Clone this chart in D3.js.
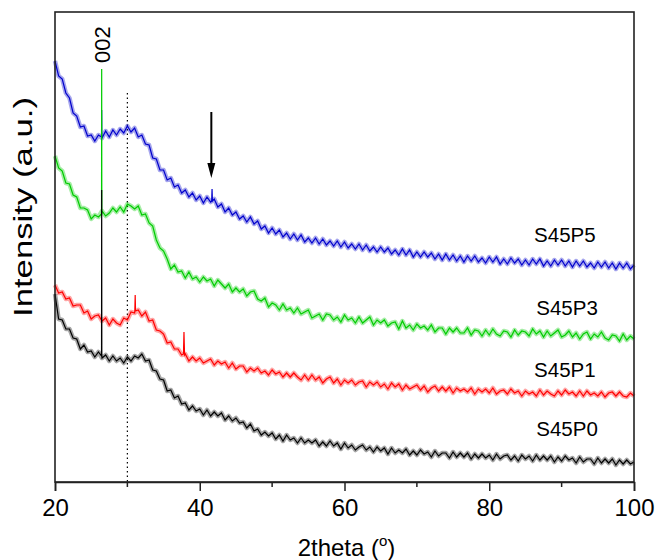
<!DOCTYPE html>
<html>
<head>
<meta charset="utf-8">
<script src="https://cdn.jsdelivr.net/npm/d3@7/dist/d3.min.js"></script>
<style>
  html, body { margin: 0; padding: 0; background: #fff; }
  svg { display: block; }
  text { font-family: "Liberation Sans", Arial, sans-serif; fill: #000; }
</style>
</head>
<body>
<div id="chart"></div>
<script>
// ---------------- DATA ----------------
const seriesNames = ["S45P5", "S45P3", "S45P1", "S45P0"];
const seriesColors = ["#0000CC", "#00CC00", "#FF0000", "#000000"];
const xTicks = [20, 40, 60, 80, 100];
const xMinorTicks = [30, 50, 70, 90];
const angleStart = 20, angleStep = 0.5; // 2theta sampling of the value arrays

// intensities (a.u.) sampled every 0.5 deg from 20 to 100
const S45P5 = [421,406,403,389,384,369,366,355,356,346,347,341,347,344,351,345,352,347,353,349,
356,350,354,345,347,338,337,324,323,312,312,302,304,295,297,289,292,285,289,282,
286,279,285,280,283,275,278,270,274,267,270,263,266,260,265,258,261,253,256,249,
254,248,252,245,249,243,248,242,247,240,244,239,244,238,243,237,241,236,241,235,
240,234,238,233,238,232,237,231,235,230,235,230,234,228,232,227,233,227,232,225,
230,225,230,225,229,223,228,222,228,222,227,221,226,220,226,221,226,220,224,219,
225,220,225,218,223,218,224,219,223,217,222,217,223,218,223,216,221,216,222,217,
222,216,221,215,221,216,221,215,219,214,220,215,220,214,219,213,219,214,219,213,217];

const S45P3 = [326,314,311,299,298,287,285,274,274,272,263,267,265,271,266,269,274,270,275,270,
278,276,273,276,267,268,259,256,242,234,231,223,213,217,210,211,204,210,203,205,
200,205,201,203,196,202,198,194,198,190,194,190,193,186,190,191,183,181,184,175,
179,177,172,178,172,174,169,174,168,170,172,164,166,168,162,168,167,162,165,160,
167,162,164,159,165,159,162,165,157,162,159,162,156,159,160,153,161,154,157,152,
158,154,156,152,157,150,154,154,148,154,150,154,149,149,154,147,152,151,146,152,
147,153,148,146,151,150,145,152,147,151,150,146,153,148,151,145,151,146,149,152,
145,147,151,145,149,143,148,150,143,148,145,150,144,142,147,146,141,148,142,146,143];

const S45P1 = [197,189,190,183,184,176,177,177,169,171,163,166,167,161,164,157,163,159,157,164,
162,170,169,172,166,170,161,162,152,151,148,139,140,133,133,127,128,121,125,121,
124,119,121,123,117,121,118,120,114,119,113,116,116,110,114,111,114,109,111,107,
112,108,110,105,109,105,109,105,102,107,102,107,102,105,99,103,105,99,103,97,
102,99,102,97,100,101,95,100,97,100,95,98,93,99,95,98,92,97,93,95,
97,92,96,90,94,96,91,95,91,95,89,94,91,93,90,94,88,93,90,93,
89,94,88,91,92,88,93,89,91,86,91,88,90,86,92,87,91,88,86,91,
87,92,88,90,86,91,86,91,87,89,86,90,85,89,90,86,90,86,85,89,86];

const S45P0 = [188,163,162,153,153,144,143,133,137,130,131,125,130,124,127,121,126,121,124,119,
125,121,126,124,128,121,122,112,111,103,102,91,92,84,86,78,79,72,76,71,
73,67,72,66,70,66,69,62,66,61,64,59,60,54,58,51,53,47,50,46,
49,43,47,41,47,42,44,39,44,39,42,39,42,36,40,36,41,36,39,33,
39,34,37,32,35,37,32,35,30,35,31,34,28,34,29,32,29,33,27,31,
27,32,28,30,25,31,26,29,29,24,30,25,29,25,29,23,28,24,28,24,
27,22,28,23,26,27,22,26,21,27,23,26,21,27,22,26,22,26,20,25,
21,26,22,24,19,25,20,23,23,18,24,19,23,19,23,17,22,18,22,18,20];

// sharp reflections recorded between the 0.5-deg samples: [2theta, intensity]
const S45P5_sharp = [[26.43,345],[26.45,372],[26.47,345],[41.65,281],[41.70,293],[41.75,281]];
const S45P3_sharp = [[26.43,268],[26.45,413],[26.47,268]];
const S45P1_sharp = [[31.03,171],[31.08,187],[31.13,171],[37.75,128],[37.82,150],[37.90,127]];
const S45P0_sharp = [[26.43,126],[26.45,292],[26.47,126]];

// annotations (data units)
const label002 = {text: "002", angle: 26.45, intensity: 419};
const refLineAngle = 30;
const refLineTop = 389;
const arrowMark = {angle: 41.6, from: 370, to: 304};
const seriesLabelPos = [[86.2, 240], [86.5, 167], [86.2, 105], [86.5, 46]];

// ---------------- CHART ----------------
const W = 656, H = 560;
const m = {left: 55, right: 22, top: 12, bottom: 78};
const iw = W - m.left - m.right, ih = H - m.top - m.bottom;

const svg = d3.select("#chart").append("svg").attr("width", W).attr("height", H);
const g = svg.append("g").attr("transform", `translate(${m.left},${m.top})`);

const x = d3.scaleLinear().domain([20, 100]).range([0, iw]);
const y = d3.scaleLinear().domain([0, 470]).range([ih, 0]);

const seriesValues = [S45P5, S45P3, S45P1, S45P0];
const seriesSharp = [S45P5_sharp, S45P3_sharp, S45P1_sharp, S45P0_sharp];

const gridPoints = vals => vals.map((v, i) => [angleStart + i * angleStep, v]);
function buildPoints(vals, sharp) {
  return gridPoints(vals).concat(sharp).sort((a, b) => a[0] - b[0]);
}

const line = d3.line().x(d => x(d[0])).y(d => y(d[1]));

// dotted reference line
g.append("line")
  .attr("x1", x(refLineAngle)).attr("x2", x(refLineAngle))
  .attr("y1", y(refLineTop)).attr("y2", y(0))
  .attr("stroke", "#000").attr("stroke-width", 1.2)
  .attr("stroke-dasharray", "1.5,3");

seriesValues.forEach((vals, k) => {
  // soft noise band (broad signal only)
  g.append("path")
    .datum(gridPoints(vals))
    .attr("fill", "none")
    .attr("stroke", seriesColors[k])
    .attr("stroke-opacity", 0.35)
    .attr("stroke-width", 4.5)
    .attr("stroke-linejoin", "round")
    .attr("d", line);
  g.append("path")
    .datum(buildPoints(vals, seriesSharp[k]))
    .attr("fill", "none")
    .attr("stroke", seriesColors[k])
    .attr("stroke-width", 1.2)
    .attr("stroke-linejoin", "miter")
    .attr("d", line);
});

// series labels
seriesNames.forEach((n, k) => {
  g.append("text")
    .attr("x", x(seriesLabelPos[k][0]))
    .attr("y", y(seriesLabelPos[k][1]))
    .attr("font-size", 20.5)
    .text(n);
});

// 002 label
g.append("text")
  .attr("transform", `translate(${x(label002.angle) + 8},${y(label002.intensity)}) rotate(-90)`)
  .attr("font-size", 22)
  .text(label002.text);

// arrow
const ax = x(arrowMark.angle);
g.append("line")
  .attr("x1", ax).attr("x2", ax)
  .attr("y1", y(arrowMark.from)).attr("y2", y(arrowMark.to) - 12)
  .attr("stroke", "#000").attr("stroke-width", 2);
g.append("path")
  .attr("d", `M${ax - 4},${y(arrowMark.to) - 15} L${ax + 4},${y(arrowMark.to) - 15} L${ax},${y(arrowMark.to)} Z`)
  .attr("fill", "#000");

// frame
g.append("rect")
  .attr("x", 0).attr("y", 0).attr("width", iw).attr("height", ih)
  .attr("fill", "none").attr("stroke", "#222").attr("stroke-width", 1.6);

// x axis
const xAxis = g.append("g").attr("transform", `translate(0,${ih})`)
  .call(d3.axisBottom(x).tickValues(xTicks).tickSize(9).tickPadding(8).tickFormat(d3.format("d")));
xAxis.select(".domain").attr("stroke", "#222").attr("stroke-width", 1.6);
xAxis.selectAll(".tick line").attr("stroke", "#222").attr("stroke-width", 1.5);
xAxis.selectAll("text").attr("font-size", 24).attr("font-family", "Liberation Sans, Arial, sans-serif");

g.append("g").attr("transform", `translate(0,${ih})`)
  .selectAll("line").data(xMinorTicks).enter().append("line")
  .attr("x1", d => x(d)).attr("x2", d => x(d))
  .attr("y1", 0).attr("y2", 5)
  .attr("stroke", "#222").attr("stroke-width", 1.5);

// axis titles
const xt = svg.append("text")
  .attr("x", m.left + iw / 2 + 2).attr("y", 556)
  .attr("text-anchor", "middle").attr("font-size", 24);
xt.append("tspan").text("2theta (");
xt.append("tspan").attr("font-size", 15).attr("dy", -10).text("o");
xt.append("tspan").attr("dy", 10).text(")");

svg.append("text")
  .attr("transform", `translate(32,${m.top + 195}) rotate(-90)`)
  .attr("text-anchor", "middle").attr("font-size", 26)
  .attr("textLength", 220).attr("lengthAdjust", "spacingAndGlyphs")
  .text("Intensity (a.u.)");
</script>
</body>
</html>
